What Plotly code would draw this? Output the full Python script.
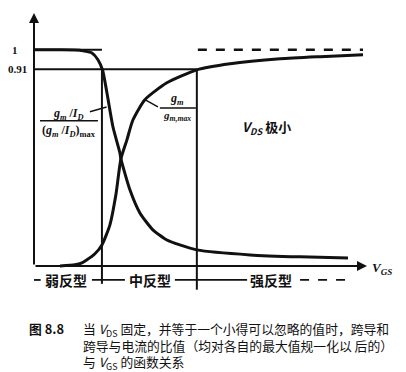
import plotly.graph_objects as go

# ---------------- data ----------------
# normalised gm/ID curve (weak -> strong inversion)
gmid_x = [0.0, 0.78, 1.38, 1.47, 1.74, 1.92, 2.06, 2.19, 2.37, 2.58, 2.61, 2.88, 3.18, 3.57, 3.99, 4.38, 4.89, 6.49, 7.99, 9.43]
gmid_y = [1.0, 1.0, 0.998, 0.995, 0.985, 0.954, 0.905, 0.801, 0.644, 0.523, 0.495, 0.352, 0.245, 0.167, 0.120, 0.097, 0.074, 0.051, 0.042, 0.037]

# normalised gm curve
gm_x = [0.78, 1.23, 1.44, 1.59, 1.83, 2.04, 2.28, 2.46, 2.61, 2.79, 2.97, 3.33, 3.99, 4.89, 5.89, 7.39, 8.59, 9.88]
gm_y = [0.0, 0.005, 0.014, 0.028, 0.056, 0.097, 0.19, 0.33, 0.495, 0.583, 0.675, 0.769, 0.847, 0.907, 0.935, 0.958, 0.968, 0.977]

y_tick_vals = [1, 0.91]
y_tick_text = ["1", "0.91"]
region_bounds = [2.04, 4.89]          # weak/moderate, moderate/strong
region_labels = ["弱反型", "中反型", "强反型"]
region_centers = [0.96, 3.48, 7.12]
asymptote_level = 1.0

caption_head = "图 8.8"
caption = [
    "当 <i>V</i><sub>DS</sub> 固定，并等于一个小得可以忽略的值时，跨导和",
    "跨导与电流的比值（均对各自的最大值规一化以 后的）",
    "与 <i>V</i><sub>GS</sub> 的函数关系",
]

BLACK = "#111111"
CJK = "Noto Sans CJK SC"
SERIF = "Liberation Serif"

fig = go.Figure()
fig.add_trace(go.Scatter(x=gmid_x, y=gmid_y, mode="lines",
                         line=dict(color=BLACK, width=3, shape="spline", smoothing=0.6),
                         hoverinfo="skip", showlegend=False))
fig.add_trace(go.Scatter(x=gm_x, y=gm_y, mode="lines",
                         line=dict(color=BLACK, width=3, shape="spline", smoothing=0.6),
                         hoverinfo="skip", showlegend=False))

shapes = []
lw = 2
# reference horizontal lines
shapes.append(dict(type="line", xref="x", yref="y", x0=0, x1=region_bounds[0], y0=1, y1=1,
                   line=dict(color=BLACK, width=lw)))
shapes.append(dict(type="line", xref="x", yref="y", x0=0, x1=region_bounds[1], y0=0.91, y1=0.91,
                   line=dict(color=BLACK, width=lw)))
# dashed asymptote
shapes.append(dict(type="line", xref="x", yref="y", x0=4.92, x1=9.88, y0=asymptote_level, y1=asymptote_level,
                   line=dict(color=BLACK, width=2.5, dash="dash")))
# region boundaries
shapes.append(dict(type="line", xref="x", yref="y", x0=region_bounds[0], x1=region_bounds[0], y0=0.91, y1=-0.083,
                   line=dict(color=BLACK, width=lw)))
shapes.append(dict(type="line", xref="x", yref="y", x0=region_bounds[1], x1=region_bounds[1], y0=0.91, y1=-0.11,
                   line=dict(color=BLACK, width=lw)))
# region dashes
ylab = -0.065
for x0, x1, d in [(0.0, 0.2, "solid"), (1.74, 2.73, "solid"), (4.23, 6.40, "solid"), (7.99, 9.34, "dash")]:
    shapes.append(dict(type="line", xref="x", yref="y", x0=x0, x1=x1, y0=ylab, y1=ylab,
                       line=dict(color=BLACK, width=1.8, dash=d)))
# fraction bars
shapes.append(dict(type="line", xref="x", yref="y", x0=0.18, x1=1.92, y0=0.671, y1=0.671,
                   line=dict(color=BLACK, width=1.5)))
shapes.append(dict(type="line", xref="x", yref="y", x0=3.78, x1=4.86, y0=0.731, y1=0.731,
                   line=dict(color=BLACK, width=1.5)))
# leader lines
shapes.append(dict(type="line", xref="x", yref="y", x0=1.68, x1=2.18, y0=0.713, y1=0.735,
                   line=dict(color=BLACK, width=1.5)))
shapes.append(dict(type="line", xref="x", yref="y", x0=3.33, x1=3.72, y0=0.769, y1=0.736,
                   line=dict(color=BLACK, width=1.5)))

ann = []
# axes as arrows
ann.append(dict(x=0, y=1.17, ax=0, ay=0, axref="x", ayref="y", xref="x", yref="y", text="",
                showarrow=True, arrowhead=2, arrowsize=1, arrowwidth=2, arrowcolor=BLACK))
ann.append(dict(x=10, y=0, ax=0, ay=0, axref="x", ayref="y", xref="x", yref="y", text="",
                showarrow=True, arrowhead=2, arrowsize=1, arrowwidth=2, arrowcolor=BLACK))
ann.append(dict(x=1.045, y=-0.01, xref="paper", yref="y", text="<b><i>V<sub>GS</sub></i></b>",
                showarrow=False, xanchor="center", font=dict(family=SERIF, size=13, color=BLACK)))
# y tick labels (left aligned as in the original)
for v, t in zip(y_tick_vals, y_tick_text):
    ann.append(dict(x=-0.084 if t != "1" else -0.072, y=v, xref="paper", yref="y", text="<b>" + t + "</b>",
                    showarrow=False, xanchor="left", font=dict(family=SERIF, size=11, color=BLACK)))
# curve labels
lab_font = dict(family=SERIF, size=12, color=BLACK)
ann.append(dict(x=1.05, y=0.704, xref="x", yref="y", showarrow=False,
                text="<b><i>g<sub>m</sub></i> /<i>I<sub>D</sub></i></b>", font=lab_font))
ann.append(dict(x=1.05, y=0.625, xref="x", yref="y", showarrow=False,
                text="<b>(<i>g<sub>m</sub></i> /<i>I<sub>D</sub></i>)<sub>max</sub></b>", font=lab_font))
ann.append(dict(x=4.3, y=0.773, xref="x", yref="y", showarrow=False,
                text="<b><i>g<sub>m</sub></i></b>", font=lab_font))
ann.append(dict(x=4.3, y=0.694, xref="x", yref="y", showarrow=False,
                text="<b><i>g<sub>m,max</sub></i></b>", font=dict(family=SERIF, size=11, color=BLACK)))
ann.append(dict(x=6.97, y=0.639, xref="x", yref="y", showarrow=False,
                text="<b><i>V<sub>DS</sub></i></b> <b>极小</b>", font=dict(family=CJK, size=13, color=BLACK)))
# region labels
for lbl, cx in zip(region_labels, region_centers):
    ann.append(dict(x=cx, y=ylab, xref="x", yref="y", showarrow=False, text="<b>" + lbl + "</b>",
                    bgcolor="white", font=dict(family=CJK, size=14, color=BLACK)))
# caption: one multi-line block, top-anchored
cap_font = dict(family=CJK, size=12.8, color=BLACK)
cap_top = -0.082
ann.append(dict(x=-0.02, y=cap_top, xref="paper", yref="paper", showarrow=False, xanchor="left",
                yanchor="top", text="<b>" + caption_head + "</b>", font=cap_font))
ann.append(dict(x=0.141, y=cap_top, xref="paper", yref="paper", showarrow=False, xanchor="left",
                yanchor="top", align="left", text="<br>".join(caption), font=cap_font))

fig.update_layout(
    width=406, height=372,
    margin=dict(l=34, r=39, t=13, b=78, autoexpand=False),
    paper_bgcolor="white", plot_bgcolor="white",
    xaxis=dict(range=[0, 10], showgrid=False, zeroline=False, showline=False,
               showticklabels=False, ticks="", automargin=False),
    yaxis=dict(range=[-0.13, 1.17], showgrid=False, zeroline=False, showline=False,
               showticklabels=False, ticks="", automargin=False),
    shapes=shapes, annotations=ann,
)

fig.write_html("out.html", config={"displayModeBar": False},
               post_script="document.body.style.margin='0';document.body.style.overflow='hidden';")
